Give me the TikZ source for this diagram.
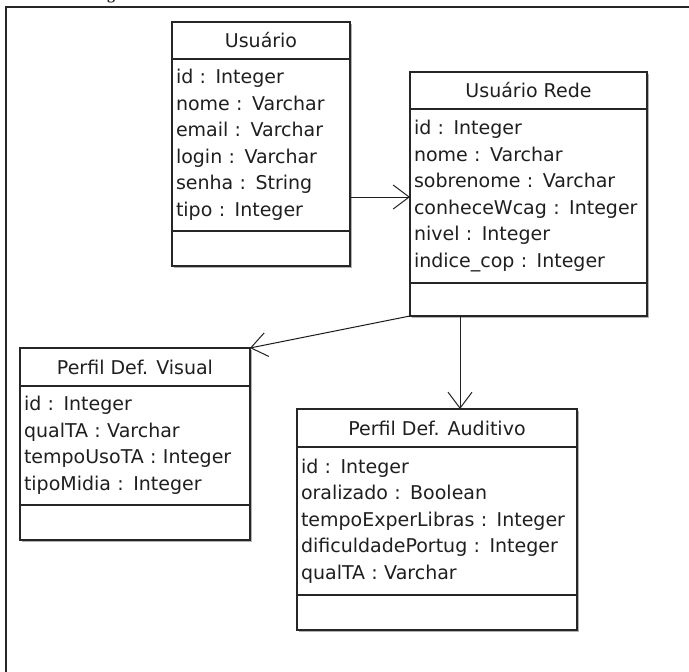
\documentclass[tikz,border=0pt]{standalone}
\usepackage{fontspec}
\setmainfont{DejaVu Sans}
\newfontfamily\titleserif{Liberation Serif}
\usetikzlibrary{arrows.meta,shadows}
\begin{document}
\begin{tikzpicture}[x=1pt,y=-1pt,
  every node/.style={font=\fontsize{19}{26.5}\selectfont, text=black!88},
  part/.style={draw=black!85, line width=1.3pt, fill=white, inner sep=0pt, outer sep=0pt,
    anchor=north west, minimum height=#1,
    drop shadow={shadow xshift=1.5pt, shadow yshift=-1.5pt, opacity=.3, fill=black}},
  attrs/.style={align=left, inner xsep=4pt, text width=#1},
  assoc/.style={draw=black!88, line width=1pt,
    -{Straight Barb[length=16pt,width=24pt,line width=1pt]}}]

\useasboundingbox (0,0) rectangle (689,672);

% caption above the frame (only its lower edge falls on the page)
\node[font=\titleserif\bfseries\fontsize{16}{16}\selectfont, anchor=base, inner sep=0pt] (cap) at (111,-0.5) {g};

% outer frame
\draw[line width=2pt, black!85] (6,690) -- (6,7) -- (700,7);

% Usuario
\node[part=37, minimum width=178] (usr) at (172,22) {Usuário};
\node[part=172, minimum width=178, attrs=170] (usrAttr) at (usr.south west)
  {id : Integer\\nome : Varchar\\email : Varchar\\login : Varchar\\senha : String\\tipo : Integer};
\node[part=35, minimum width=178] (usrOps) at (usrAttr.south west) {};

% Usuario Rede
\node[part=37, minimum width=237] (rede) at (410,72) {Usuário Rede};
\node[part=174, minimum width=237, attrs=229] (redeAttr) at (rede.south west)
  {id : Integer\\nome : Varchar\\sobrenome : Varchar\\conheceWcag : Integer\\nivel : Integer\\indice\_cop : Integer};
\node[part=33, minimum width=237] (redeOps) at (redeAttr.south west) {};

% Perfil Def. Visual
\node[part=38, minimum width=230] (vis) at (20,348) {Perfil Def. Visual};
\node[part=119, minimum width=230, attrs=222] (visAttr) at (vis.south west)
  {id : Integer\\qualTA : Varchar\\tempoUsoTA : Integer\\tipoMidia : Integer};
\node[part=35, minimum width=230] (visOps) at (visAttr.south west) {};

% Perfil Def. Auditivo
\node[part=38, minimum width=280] (aud) at (297,409) {Perfil Def. Auditivo};
\node[part=148, minimum width=280, attrs=272] (audAttr) at (aud.south west)
  {id : Integer\\oralizado : Boolean\\tempoExperLibras : Integer\\dificuldadePortug : Integer\\qualTA : Varchar};
\node[part=35, minimum width=280] (audOps) at (audAttr.south west) {};

% associations
\coordinate (usrOut) at (350,197);
\draw[assoc] (usrOut) -- (usrOut -| redeAttr.west);
\draw[assoc] (redeOps.south west) -- (vis.north east);
\coordinate (redeOut) at (460,315);
\draw[assoc] (redeOut) -- (redeOut |- aud.north);

\end{tikzpicture}
\end{document}
